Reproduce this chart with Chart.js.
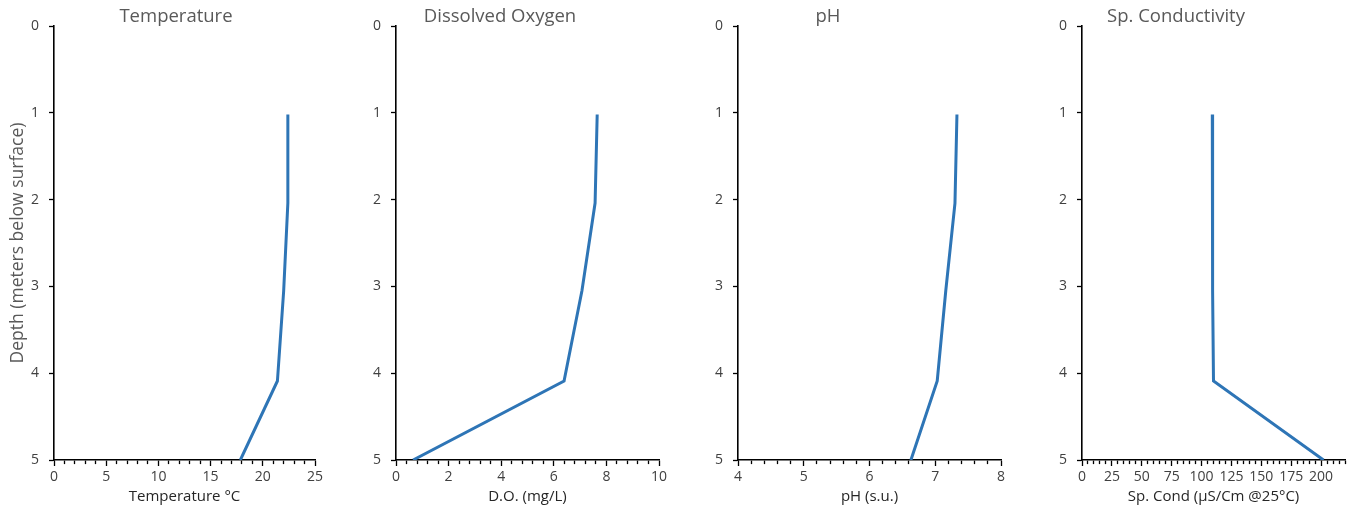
<!DOCTYPE html>
<html>
<head>
<meta charset="utf-8">
<script src="https://cdn.jsdelivr.net/npm/chart.js@4"></script>
<style>
  html, body { margin: 0; padding: 0; background: #fff; }
  #wrap { position: relative; width: 1353px; height: 510px; overflow: hidden; }
  canvas { position: absolute; top: 0; }
</style>
</head>
<body>
<div id="wrap">
  <canvas id="c0" width="338" height="510" style="left:0px"></canvas>
  <canvas id="c1" width="338" height="510" style="left:340px"></canvas>
  <canvas id="c2" width="338" height="510" style="left:680px"></canvas>
  <canvas id="c3" width="338" height="510" style="left:1015px"></canvas>
</div>
<script>
// depth profile readings (meters below surface)
const depth = [1.02, 2.04, 3.05, 4.09, 5.0];
const temperature = [22.4, 22.4, 22.0, 21.4, 17.85];
const dissolvedOxygen = [7.65, 7.57, 7.07, 6.39, 0.65];
const ph = [7.33, 7.30, 7.16, 7.03, 6.63];
const spCond = [109, 109, 109.5, 110, 202];

const panelTitles = ['Temperature', 'Dissolved Oxygen', 'pH', 'Sp. Conductivity'];
const xTitles = ['Temperature °C', 'D.O. (mg/L)', 'pH (s.u.)', 'Sp. Cond (µS/Cm @25°C)'];
const xMin = [0, 0, 4, 0];
const xMax = [25, 10, 8, 220];
const majorStep = [5, 2, 1, 25];
const minorStep = [1, 0.4, 0.2, 5];
const depthTicks = [0, 1, 2, 3, 4, 5];
const series = [temperature, dissolvedOxygen, ph, spCond];

// layout per panel: canvas left, y axis width, right padding, title centre (page x)
const canvasLeft = [0, 340, 680, 1015];
const yAxisWidth = [54, 56, 58, 67];
const padRight = [23, 19, 17, 8];
const titleCenter = [176, 500, 828, 1176];

const FONT = "'Open Sans', 'DejaVu Sans', sans-serif";

const isMajor = (v, step) => Math.abs(v / step - Math.round(v / step)) < 1e-6;

const panelTitle = {
  id: 'panelTitle',
  afterDraw(chart, args, opts) {
    const ctx = chart.ctx;
    ctx.save();
    ctx.font = '18.5px ' + FONT;
    ctx.fillStyle = '#595959';
    ctx.textAlign = 'center';
    ctx.textBaseline = 'middle';
    ctx.fillText(opts.text, opts.x, opts.y);
    ctx.restore();
  }
};

series.forEach((vals, i) => {
  const pts = vals.map((v, k) => ({ x: v, y: depth[k] }));
  new Chart(document.getElementById('c' + i), {
    type: 'scatter',
    data: {
      datasets: [{
        data: pts,
        showLine: true,
        borderColor: '#2E75B6',
        borderWidth: 3,
        pointRadius: 0,
        tension: 0
      }]
    },
    plugins: [panelTitle],
    options: {
      responsive: false,
      animation: false,
      layout: { padding: { top: 26, bottom: 0, left: 0, right: padRight[i] } },
      plugins: {
        legend: { display: false },
        tooltip: { enabled: false },
        panelTitle: { text: panelTitles[i], x: titleCenter[i] - canvasLeft[i], y: 17 }
      },
      scales: {
        x: {
          type: 'linear',
          position: 'bottom',
          min: xMin[i],
          max: xMax[i],
          afterFit(s) { s.height = 50; s.paddingLeft = 0; s.paddingRight = 0; },
          ticks: {
            stepSize: minorStep[i],
            autoSkip: false,
            maxRotation: 0,
            minRotation: 0,
            padding: 3,
            color: '#404040',
            font: { family: FONT, size: 14 },
            callback: (v) => isMajor(v, majorStep[i]) ? String(Math.round(v * 10) / 10) : ''
          },
          grid: {
            drawOnChartArea: false,
            drawTicks: true,
            tickLength: 6,
            tickColor: '#000',
            tickWidth: 1.3,
            tickBorderDash: (ctx) => (ctx.tick && isMajor(ctx.tick.value, majorStep[i])) ? [] : [3.5, 20]
          },
          border: { display: true, color: '#000', width: 1.6 },
          title: {
            display: true,
            text: xTitles[i],
            color: '#262626',
            font: { family: FONT, size: 15 },
            padding: { top: 0, bottom: 4 }
          }
        },
        y: {
          type: 'linear',
          position: 'left',
          reverse: true,
          min: 0,
          max: 5,
          afterFit(s) { s.width = yAxisWidth[i]; s.paddingTop = 0; s.paddingBottom = 0; },
          afterBuildTicks(s) { s.ticks = depthTicks.map(v => ({ value: v })); },
          ticks: {
            padding: 10,
            color: '#404040',
            font: { family: FONT, size: 14 }
          },
          grid: {
            drawOnChartArea: false,
            drawTicks: true,
            tickLength: 5,
            tickColor: '#000',
            tickWidth: 1.3
          },
          border: { display: true, color: '#000', width: 1.6 },
          title: {
            display: i === 0,
            text: 'Depth (meters below surface)',
            color: '#595959',
            font: { family: FONT, size: 17.5 },
            padding: { top: 8, bottom: 0 }
          }
        }
      }
    }
  });
});
</script>
</body>
</html>
